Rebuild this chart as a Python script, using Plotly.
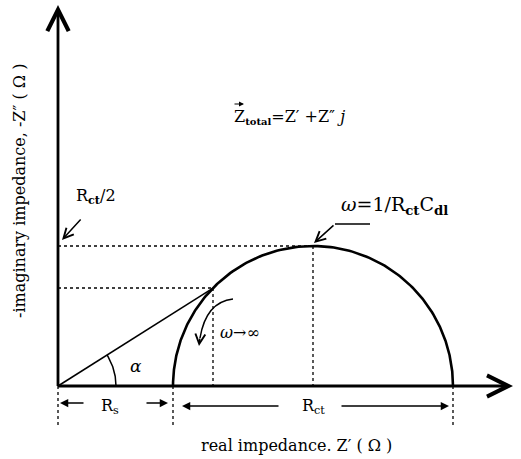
import numpy as np
import plotly.graph_objects as go

# Randles cell parameters (Ω) and the marked frequency point (ω·Rct·Cdl)
r_s = 115.0
r_ct = 280.0
omega_rc_marked = np.sqrt(6.0)

# Axis extents (Ω)
x_axis_end = 455.0
y_axis_end = 381.0
x_range = [-58, 463]
y_range = [-73, 386]

# Text labels
title_text = ("Z<sub><span style='font-size:10px'><b>total</b></span></sub>"
              "=Z\u2032 +Z\u2033 <i>j</i>")
x_title = "real impedance. Z\u2032 ( Ω )"
y_title = "-imaginary impedance, -Z\u2033 ( Ω )"
peak_label = "<i>ω</i>=1/R<sub><b>ct</b></sub>C<sub><b>dl</b></sub>"
half_label = "R<sub><b>ct</b></sub>/2"
hf_label = "<i>ω</i>\u2192∞"

FONT = "DejaVu Serif"
INK = "black"

# Semicircle of the parallel Rct–Cdl element in series with Rs
w = np.concatenate([[0.0], np.logspace(-3, 3, 600), [1e9]])
z = r_s + r_ct / (1 + 1j * w)
zr = z.real
zi = -z.imag

# marked point on the arc
zm = r_s + r_ct / (1 + 1j * omega_rc_marked)
pm_x, pm_y = zm.real, -zm.imag
peak_x, peak_y = r_s + r_ct / 2, r_ct / 2

fig = go.Figure()

def line(xs, ys, width=1.5, dash="solid"):
    fig.add_trace(go.Scatter(x=xs, y=ys, mode="lines",
                             line=dict(color=INK, width=width, dash=dash),
                             hoverinfo="skip"))

# arc
line(zr, zi, width=2.6)

# phase line from origin to the marked point
line([0, pm_x], [0, pm_y], width=1.5)

# angle arc α
alpha = np.arctan2(pm_y, pm_x)
t = np.linspace(0, alpha, 40)
line(58 * np.cos(t), 58 * np.sin(t), width=1.5)

# dotted guides
line([0, peak_x], [peak_y, peak_y], width=1.3, dash="dot")
line([0, pm_x], [pm_y, pm_y], width=1.3, dash="dot")
line([pm_x, pm_x], [pm_y, 0], width=1.3, dash="dot")
line([peak_x, peak_x], [peak_y, 0], width=1.3, dash="dot")
for xv, y_low in [(0, -40), (r_s, -40), (r_s + r_ct, -42)]:
    line([xv, xv], [0, y_low], width=1.3, dash="dot")

# leader for the peak label
line([312, 277], [162, 162], width=1.4)

# curved high-frequency arrow
fig.add_shape(type="path", path="M 175,87 Q 148,84 142,48",
              line=dict(color=INK, width=1.5), xref="x", yref="y")

annotations = []

def arrow(x, y, ax, ay, width=1.5, head=2, size=1.0):
    annotations.append(dict(x=x, y=y, ax=ax, ay=ay, xref="x", yref="y",
                            axref="x", ayref="y", text="", showarrow=True,
                            arrowhead=head, arrowsize=size, arrowwidth=width,
                            arrowcolor=INK, standoff=0, startstandoff=0))

# axes with open arrowheads
arrow(x_axis_end, 0, -1.5, 0, width=2.8, head=5, size=1.5)
arrow(0, y_axis_end, 0, -1.5, width=2.8, head=5, size=1.5)

# dimension arrows
arrow(2, -17, 27, -17, width=1.5, head=2, size=1.1)
arrow(110, -17, 87, -17, width=1.5, head=2, size=1.1)
arrow(124, -20, 222, -20, width=1.5, head=2, size=1.1)
arrow(391, -20, 282, -20, width=1.5, head=2, size=1.1)

# leaders
arrow(256, 143, 277, 162, width=1.5, head=5, size=1.3)
arrow(4, 146, 24, 168, width=1.5, head=5, size=1.3)
arrow(141, 40, 142, 49, width=1.5, head=5, size=1.3)

# vector arrow over the Z of the title
arrow(186, 282, 175, 282, width=1.0, head=2, size=1.0)

def label(x, y, text, size=15, angle=0, xanchor="center"):
    annotations.append(dict(x=x, y=y, xref="x", yref="y", text=text,
                            showarrow=False, textangle=angle, xanchor=xanchor,
                            yanchor="middle",
                            font=dict(family=FONT, size=size, color=INK)))

label(174, 269, title_text, size=16, xanchor="left")
label(336, 181, peak_label, size=19)
label(38, 190, half_label, size=16)
label(160, 54, hf_label, size=16, xanchor="left")
label(78, 20, "<i>α</i>", size=17)
label(52, -20, "R<sub>s</sub>", size=16)
label(255, -20, "R<sub>ct</sub>", size=16)
label(238, -59, x_title, size=16)
label(-39, 195, y_title, size=16, angle=-90)

fig.update_layout(
    width=521, height=459,
    margin=dict(l=0, r=0, t=0, b=0),
    paper_bgcolor="white", plot_bgcolor="white",
    showlegend=False,
    xaxis=dict(range=x_range, visible=False, fixedrange=True),
    yaxis=dict(range=y_range, visible=False, fixedrange=True),
    annotations=annotations,
)

fig.write_html("out.html")
